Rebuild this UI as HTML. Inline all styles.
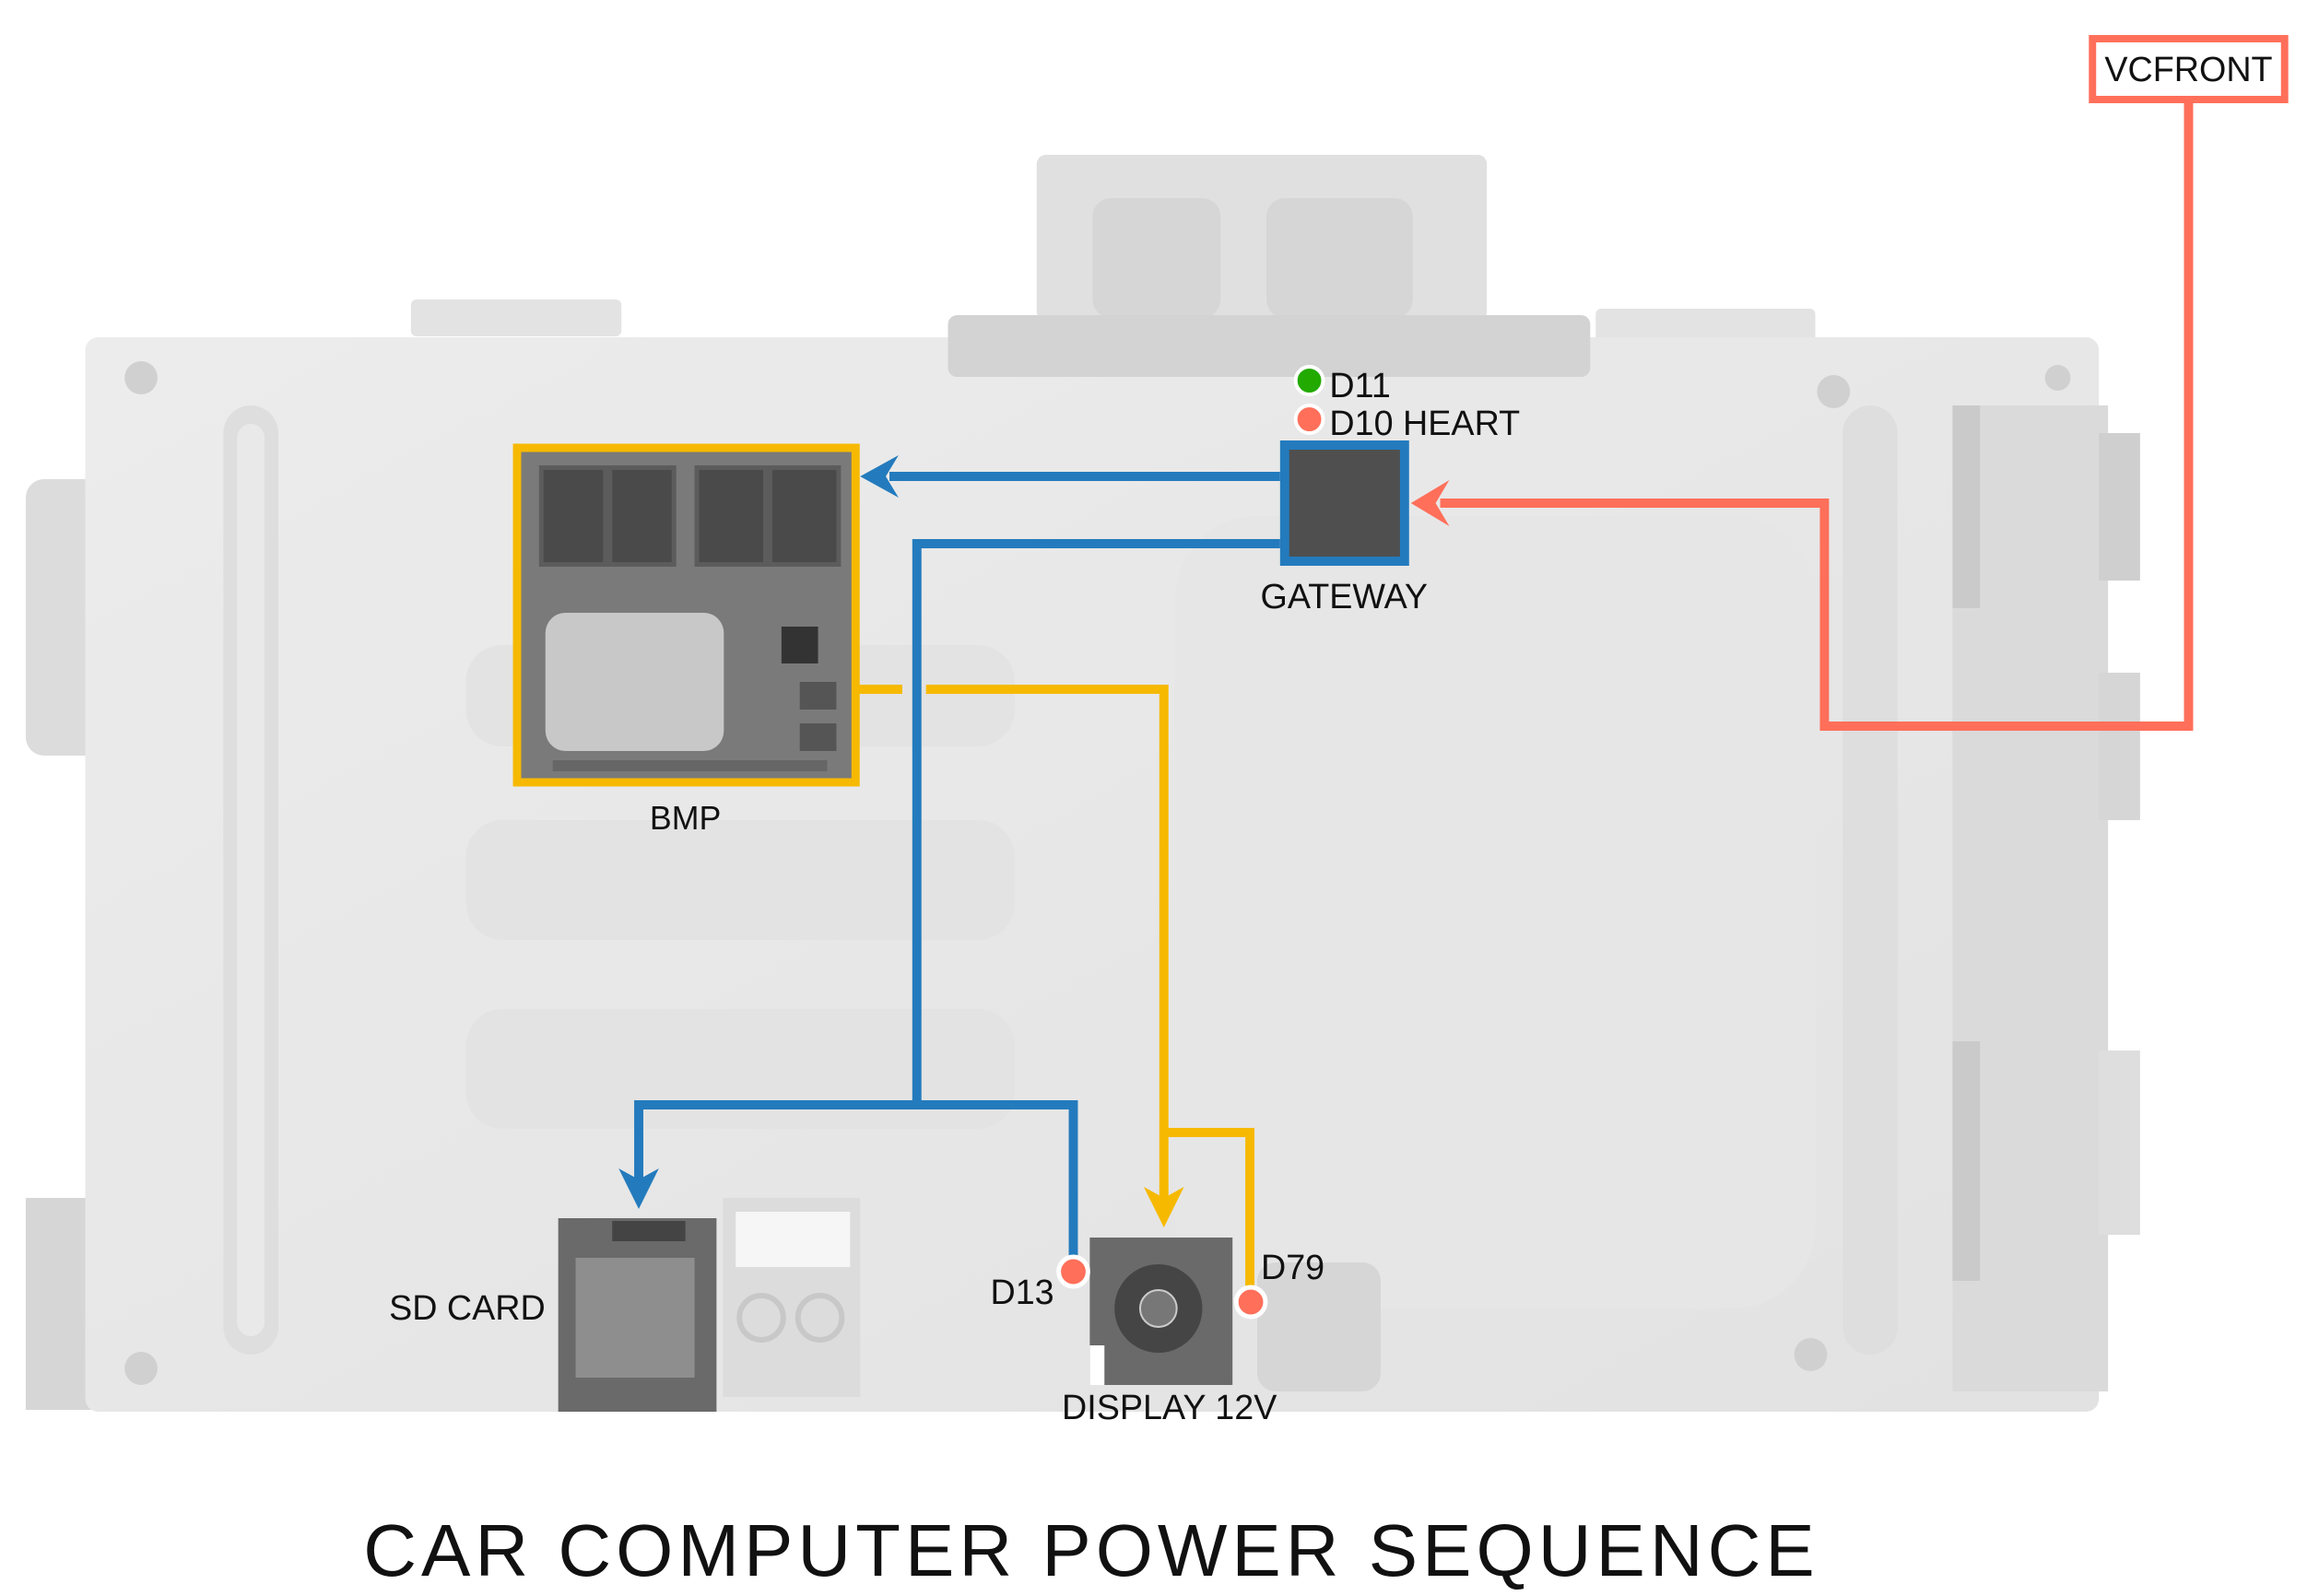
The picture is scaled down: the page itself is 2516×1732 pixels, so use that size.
<!DOCTYPE html>
<html><head><meta charset="utf-8"><style>
html,body{margin:0;padding:0;background:#fff;}
svg{display:block;}
text{font-family:"Liberation Sans",sans-serif;fill:#111;}
</style></head><body>
<svg width="2516" height="1732" viewBox="0 0 2516 1732" xmlns="http://www.w3.org/2000/svg">
<defs>
<linearGradient id="pg" x1="0" y1="0" x2="1" y2="1">
<stop offset="0" stop-color="#ececec"/><stop offset="1" stop-color="#e2e2e2"/></linearGradient>
</defs>
<g transform="translate(4.15,0) scale(0.9926,1)">
<!-- background enclosure -->
<rect x="1129" y="168" width="492" height="180" rx="10" fill="#e0e0e0"/>
<rect x="1190" y="215" width="140" height="130" rx="20" fill="#d6d6d6"/>
<rect x="1380" y="215" width="160" height="130" rx="20" fill="#d6d6d6"/>
<rect x="445" y="325" width="230" height="40" rx="6" fill="#e3e3e3"/>
<rect x="1740" y="335" width="240" height="40" rx="6" fill="#e3e3e3"/>
<rect x="24" y="520" width="90" height="300" rx="20" fill="#dcdcdc"/>
<rect x="24" y="1300" width="90" height="230" fill="#d6d6d6"/>
<rect x="89" y="366" width="2201" height="1166" rx="14" fill="url(#pg)"/>
<rect x="1032" y="342" width="702" height="67" rx="10" fill="#d3d3d3"/>
<rect x="240" y="440" width="60" height="1030" rx="30" fill="#dedede"/>
<rect x="255" y="460" width="30" height="990" rx="15" fill="#e9e9e9"/>
<rect x="2010" y="440" width="60" height="1030" rx="30" fill="#dedede"/>
<rect x="1280" y="560" width="700" height="860" rx="90" fill="#e6e6e6"/>
<rect x="505" y="700" width="600" height="110" rx="40" fill="#e3e3e3"/>
<rect x="505" y="890" width="600" height="130" rx="40" fill="#e3e3e3"/>
<rect x="505" y="1095" width="600" height="130" rx="40" fill="#e3e3e3"/>
<rect x="2130" y="440" width="170" height="1070" fill="#dadada"/>
<rect x="2290" y="470" width="45" height="160" fill="#cfcfcf"/>
<rect x="2290" y="730" width="45" height="160" fill="#d6d6d6"/>
<rect x="2290" y="1140" width="45" height="200" fill="#dedede"/>
<rect x="2130" y="440" width="30" height="220" fill="#cacaca"/>
<rect x="2130" y="1130" width="30" height="260" fill="#cacaca"/>
<rect x="1370" y="1370" width="135" height="140" rx="20" fill="#d6d6d6"/>
<circle cx="150" cy="410" r="18" fill="#d0d0d0"/>
<circle cx="2000" cy="425" r="18" fill="#d0d0d0"/>
<circle cx="2245" cy="410" r="14" fill="#d0d0d0"/>
<circle cx="150" cy="1485" r="18" fill="#d0d0d0"/>
<circle cx="1975" cy="1470" r="18" fill="#d0d0d0"/>
<!-- PRI/SEC area -->
<rect x="786" y="1300" width="150" height="216" fill="#dcdcdc"/>
<rect x="800" y="1315" width="125" height="60" fill="#f6f6f6"/>
<circle cx="828" cy="1430" r="24" fill="none" stroke="#c8c8c8" stroke-width="6"/>
<circle cx="892" cy="1430" r="24" fill="none" stroke="#c8c8c8" stroke-width="6"/>

<!-- BMP module -->
<rect x="565" y="490" width="362" height="355" fill="#7a7a7a"/>
<rect x="585" y="505" width="150" height="110" fill="#5c5c5c"/>
<rect x="755" y="505" width="160" height="110" fill="#5c5c5c"/>
<rect x="590" y="510" width="65" height="100" fill="#4a4a4a"/>
<rect x="665" y="510" width="65" height="100" fill="#4a4a4a"/>
<rect x="760" y="510" width="70" height="100" fill="#4a4a4a"/>
<rect x="840" y="510" width="70" height="100" fill="#4a4a4a"/>
<rect x="592" y="665" width="195" height="150" rx="22" fill="#c8c8c8"/>
<rect x="850" y="680" width="40" height="40" fill="#333"/>
<rect x="870" y="740" width="40" height="30" fill="#555"/>
<rect x="870" y="785" width="40" height="30" fill="#555"/>
<rect x="600" y="825" width="300" height="12" fill="#666"/>
<rect x="561" y="486" width="370" height="363" fill="none" stroke="#f6b900" stroke-width="9"/>
<text x="745" y="900" font-size="36" text-anchor="middle">BMP</text>

<!-- Gateway -->
<rect x="1400" y="483" width="131" height="126" fill="#4f4f4f"/>
<rect x="1400" y="483" width="131" height="126" fill="none" stroke="#237bbd" stroke-width="10"/>
<text x="1465" y="660" font-size="38" text-anchor="middle">GATEWAY</text>
<circle cx="1427" cy="413" r="15" fill="#22aa00" stroke="#fff" stroke-width="4"/>
<circle cx="1427" cy="455" r="15" fill="#ff6f5a" stroke="#fff" stroke-width="4"/>
<text x="1449" y="431" font-size="38">D11</text>
<text x="1449" y="472" font-size="38">D10 HEART</text>

<!-- VCFRONT -->
<rect x="2283" y="42" width="210" height="66" fill="#fff" stroke="#ff6f5a" stroke-width="8"/>
<text x="2388" y="88" font-size="38" text-anchor="middle">VCFRONT</text>

<!-- red connector -->
<polyline points="2388,108 2388,788 1990,788 1990,546 1570,546" fill="none" stroke="#ff6f5a" stroke-width="10"/>
<polygon points="1538,546 1580,521 1565,546 1580,571" fill="#ff6f5a"/>

<!-- yellow connector -->
<polyline points="931,748 982,748" fill="none" stroke="#f6b900" stroke-width="10"/>
<polyline points="1008,748 1268,748 1268,1300" fill="none" stroke="#f6b900" stroke-width="10"/>
<polygon points="1268,1332 1246,1288 1268,1300 1290,1288" fill="#f6b900"/>
<polyline points="1268,1229 1362,1229 1362,1400" fill="none" stroke="#f6b900" stroke-width="10"/>

<!-- blue connectors -->
<polyline points="1395,517 968,517" fill="none" stroke="#237bbd" stroke-width="10"/>
<polygon points="936,517 978,494 964,517 978,540" fill="#237bbd"/>
<polyline points="1395,590 998,590 998,1199 694,1199 694,1280" fill="none" stroke="#237bbd" stroke-width="10"/>
<polygon points="694,1312 672,1268 694,1280 716,1268" fill="#237bbd"/>
<polyline points="998,1199 1169,1199 1169,1372" fill="none" stroke="#237bbd" stroke-width="10"/>

<!-- SD card -->
<rect x="606" y="1322" width="173" height="210" fill="#6a6a6a"/>
<rect x="625" y="1365" width="130" height="130" fill="#8e8e8e"/>
<rect x="665" y="1325" width="80" height="22" fill="#444"/>
<text x="592" y="1432" font-size="38" text-anchor="end">SD CARD</text>

<!-- Display connector -->
<rect x="1187" y="1343" width="156" height="160" fill="#6a6a6a"/>
<circle cx="1262" cy="1420" r="48" fill="#454545"/>
<circle cx="1262" cy="1420" r="20" fill="#777" stroke="#ccc" stroke-width="2"/>
<rect x="1187" y="1460" width="16" height="43" fill="#fff"/>
<circle cx="1169" cy="1380" r="16" fill="#ff6f5a" stroke="#fff" stroke-width="5"/>
<circle cx="1363" cy="1413" r="16" fill="#ff6f5a" stroke="#fff" stroke-width="5"/>
<text x="1148" y="1415" font-size="38" text-anchor="end">D13</text>
<text x="1374" y="1388" font-size="38">D79</text>
<text x="1274" y="1540" font-size="38" text-anchor="middle">DISPLAY 12V</text>
</g>
<!-- Title -->
<text x="1184" y="1710" font-size="80" text-anchor="middle" letter-spacing="5">CAR COMPUTER POWER SEQUENCE</text>
</svg>
</body></html>
